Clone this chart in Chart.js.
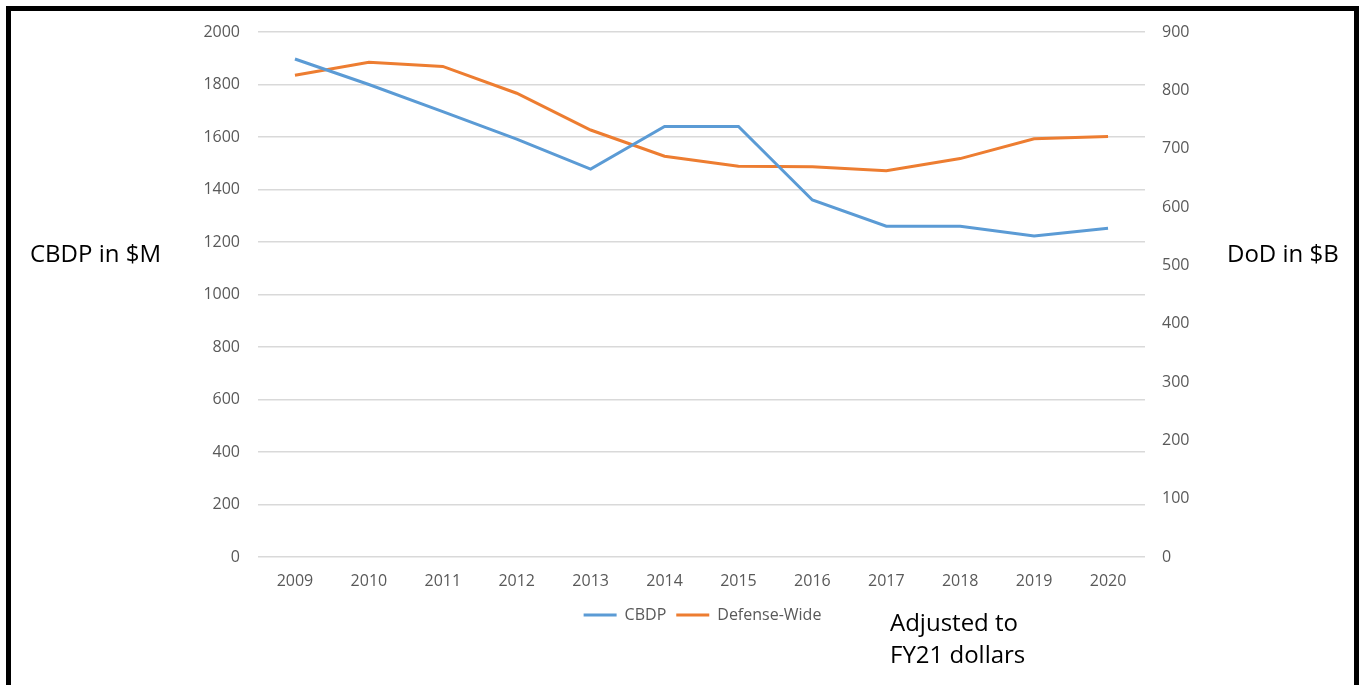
<!DOCTYPE html>
<html>
<head>
<meta charset="utf-8">
<title>CBDP vs Defense-Wide</title>
<script src="https://cdn.jsdelivr.net/npm/chart.js@4.4.1/dist/chart.umd.min.js"></script>
<style>
    html, body { margin: 0; padding: 0; background: #fff; }
    body { width: 1360px; height: 685px; position: relative; overflow: hidden; font-family: "Open Sans", sans-serif; }
    #wrap { position: absolute; left: 0; top: 0; width: 1360px; height: 685px; }
    #frame {
        position: absolute; left: 6px; top: 6px; width: 1343px; height: 700px;
        border: 5px solid #000; border-bottom: none; pointer-events: none;
    }
    .note { position: absolute; color: #000; font-size: 24px; line-height: 32px; white-space: nowrap; }
</style>
</head>
<body>
<div id="wrap"><canvas id="chart" width="1360" height="685"></canvas></div>
<div id="frame"></div>
<div class="note" style="left:30px; top:237px;">CBDP in $M</div>
<div class="note" style="left:1227px; top:237px;">DoD in $B</div>
<div class="note" style="left:890px; top:606px;">Adjusted to<br>FY21 dollars</div>
<script>
// Fiscal years on the x axis
var years = ['2009', '2010', '2011', '2012', '2013', '2014', '2015', '2016', '2017', '2018', '2019', '2020'];

// CBDP budget, $M (left axis)
var cbdp = [1897, 1800, 1697, 1592, 1478, 1640, 1640, 1360, 1260, 1260, 1223, 1252];

// Defense-Wide budget, $B (right axis)
var defenseWide = [826, 848, 841, 795, 732, 687, 670, 669, 662, 683, 717, 721];

// Axis ranges
var leftMax = 2000, leftStep = 200;
var rightMax = 900, rightStep = 100;

var tickFont = { family: '"Open Sans", sans-serif', size: 16 };
var tickColor = '#595959';

// plain integers, no thousands separator
function plain(v) { return String(v); }

var chart = new Chart(document.getElementById('chart'), {
    type: 'line',
    data: {
        labels: years,
        datasets: [{
            label: 'CBDP',
            data: cbdp,
            yAxisID: 'y',
            borderColor: '#5B9BD5',
            backgroundColor: '#5B9BD5',
            borderWidth: 3,
            pointRadius: 0,
            tension: 0,
        }, {
            label: 'Defense-Wide',
            data: defenseWide,
            yAxisID: 'y1',
            borderColor: '#ED7D31',
            backgroundColor: '#ED7D31',
            borderWidth: 3,
            pointRadius: 0,
            tension: 0,
        }]
    },
    options: {
        responsive: false,
        animation: false,
        layout: {
            padding: { left: 200, right: 155, top: 32, bottom: 52 }
        },
        plugins: {
            legend: {
                position: 'bottom',
                labels: {
                    usePointStyle: true,
                    pointStyle: 'line',
                    pointStyleWidth: 33,
                    padding: 10,
                    color: tickColor,
                    font: tickFont,
                }
            },
            tooltip: { enabled: false }
        },
        scales: {
            x: {
                offset: true,
                grid: { display: false, offset: true },
                border: { display: false },
                ticks: { color: tickColor, font: tickFont, padding: 7, maxRotation: 0 },
                afterFit: function(scale) { scale.height = 40; }
            },
            y: {
                position: 'left',
                min: 0,
                max: leftMax,
                grid: { color: '#d9d9d9', lineWidth: 1.5, drawTicks: false },
                border: { display: false },
                ticks: { stepSize: leftStep, color: tickColor, font: tickFont, padding: 18, callback: plain },
                afterFit: function(scale) { scale.width = 58; }
            },
            y1: {
                position: 'right',
                min: 0,
                max: rightMax,
                grid: { display: false, drawTicks: false },
                border: { display: false },
                ticks: { stepSize: rightStep, color: tickColor, font: tickFont, padding: 17, callback: plain },
                afterFit: function(scale) { scale.width = 60; }
            }
        }
    }
});
</script>
</body>
</html>
